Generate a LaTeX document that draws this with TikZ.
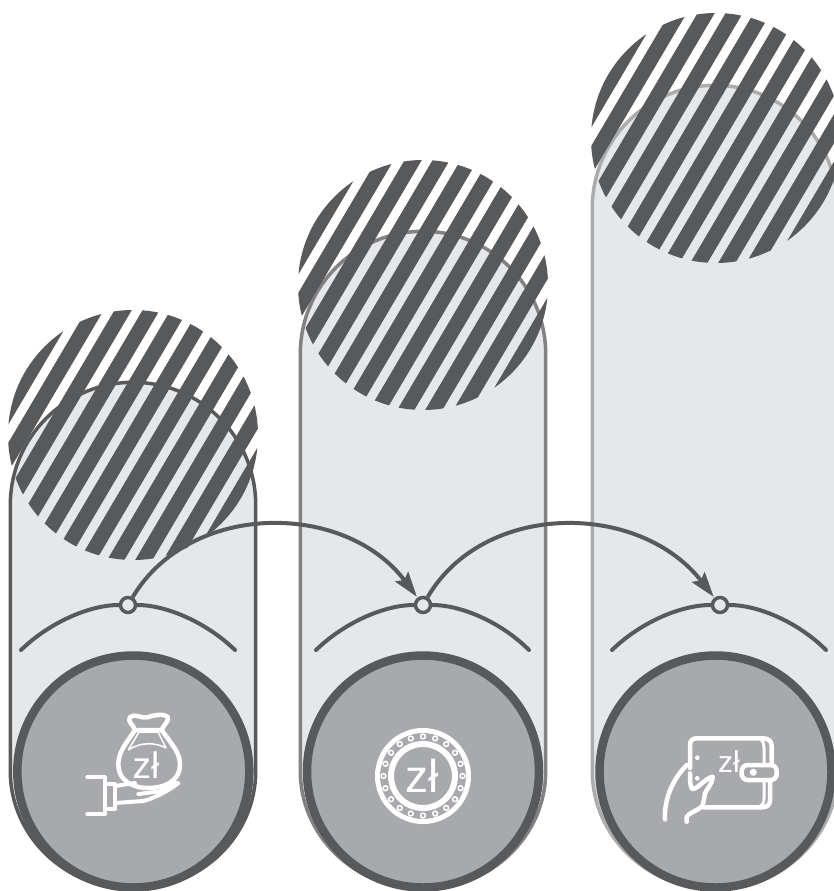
\documentclass[tikz,border=0pt]{standalone}
\usepackage{fontspec}
\setmainfont{Liberation Sans}
\usetikzlibrary{arrows.meta}
\definecolor{darkgrey}{HTML}{58595B}
\definecolor{midgrey}{HTML}{A7A9AC}
\definecolor{palegrey}{HTML}{E6E7E8}
\tikzset{
  stripe/.style={darkgrey, line width=14.8pt},
  link/.style={darkgrey, line width=4pt, -{Stealth[length=25pt,width=16pt,inset=4pt]}, shorten >=1pt},
  bow/.style={darkgrey, line width=4pt, line cap=round},
  dot/.style={circle, draw=darkgrey, fill=palegrey, line width=3.5pt, minimum size=15pt, inner sep=0pt},
  icon/.style={white, line width=4.5pt, line cap=round, line join=round},
  thinicon/.style={white, line width=1.5pt},
  zloty/.style={white, inner sep=0pt}
}
\begin{document}
\begin{tikzpicture}[x=1pt,y=-1pt]
\useasboundingbox (0,0) rectangle (834,891);
\clip (0,0) rectangle (834,891);
\fill[white] (0,0) rectangle (834,891);

% -----------------------------
% Columns
% -----------------------------
\foreach \cx/\cy/\shade in {133/505/100,423/354/75,715/208/50} {
    \draw[fill=palegrey, draw=darkgrey!\shade!white, line width=3.5pt]
        (\cx-122.7,771) -- (\cx-122.7,\cy) arc (180:360:122.7) -- (\cx+122.7,771)
        arc (0:180:122.7 and 118) -- cycle;
}

% -----------------------------
% Striped discs
% -----------------------------
\foreach \cx/\cy/\phase in {133/435/0.5,423/285/0.5,716/138/0.5} {
    \begin{scope}[shift={(\cx,\cy)}]
        \clip (0,0) circle (125);
        \foreach \k in {-7,...,7} {
            \draw[stripe] (\k*28+\phase+88.5,-150) -- (\k*28+\phase-88.5,150);
        }
    \end{scope}
}

% -----------------------------
% Base discs
% -----------------------------
\foreach \cx in {133.3,423,715.5} {
    \draw[fill=midgrey, draw=darkgrey, line width=8.5pt] (\cx,771.5) circle (116);
}

% -----------------------------
% Bows and links
% -----------------------------
\node[dot] (dotA) at (128,605) {};
\node[dot] (dotB) at (423,605) {};
\node[dot] (dotC) at (720,605) {};

\coordinate (bowAl) at (21,650);
\coordinate (bowAr) at (235,650);
\coordinate (bowBl) at (316,650);
\coordinate (bowBr) at (529,650);
\coordinate (bowCl) at (612,650);
\coordinate (bowCr) at (826,650);

\draw[bow] (bowAl) .. controls (50,622) and (90,605) .. (dotA);
\draw[bow] (dotA) .. controls (166,605) and (206,622) .. (bowAr);
\draw[bow] (bowBl) .. controls (345,622) and (385,605) .. (dotB);
\draw[bow] (dotB) .. controls (461,605) and (501,622) .. (bowBr);
\draw[bow] (bowCl) .. controls (641,622) and (681,605) .. (dotC);
\draw[bow] (dotC) .. controls (758,605) and (798,622) .. (bowCr);

\draw[link] (dotA) .. controls (190,501) and (345,501) .. (dotB);
\draw[link] (dotB) .. controls (484,501) and (639,501) .. (dotC);

% -----------------------------
% Money bag on a hand
% -----------------------------
\draw[icon] (135,730) .. controls (125,745) and (118.3,752) .. (118.3,765)
    .. controls (118.3,780) and (132,788) .. (148.3,788)
    .. controls (166,788) and (180,780) .. (180,765)
    .. controls (180,752) and (172,745) .. (161.7,730) -- cycle;
\draw[icon] (135,730) .. controls (133,724) and (127,722) .. (130,717)
    .. controls (135,713) and (141,719) .. (148.3,717)
    .. controls (155,715) and (163,713) .. (168,717)
    .. controls (169,722) and (163,725) .. (161.7,730);
\draw[thinicon] (128.3,750) -- (139,732) -- (158,732) -- (166,748);
\draw[thinicon] (128.3,750) .. controls (140,742) and (155,742) .. (166,748);
\draw[icon, line width=4pt] (87.3,777.3) -- (105,777.3) -- (105,814) -- (87.3,814);
\draw[icon, line width=4pt] (105,784) -- (115,784) -- (115,809) -- (105,809);
\draw[icon, line width=4pt] (115,786) -- (135,783);
\draw[icon, line width=4pt] (115,803) -- (143.3,801) .. controls (155,798) and (170,790) .. (178.3,783)
    .. controls (170,782) and (165,790) .. (160,791.3) -- (138.3,794);
\node[zloty, font=\fontsize{37}{37}\selectfont] (bagText) at (146,765) {zł};

% -----------------------------
% Coin
% -----------------------------
\draw[icon, line width=5pt] (423,776) circle (45.5);
\draw[icon, line width=6pt] (423,776) circle (32);
\foreach \a in {0,18,...,342} {
    \draw[thinicon] (423,776) ++(\a:39.5) circle (2.4);
}
\node[zloty, font=\fontsize{46}{46}\selectfont] (coinText) at (422,776) {zł};

% -----------------------------
% Wallet in a hand
% -----------------------------
\draw[icon] (690,768) -- (690,745) .. controls (690,740) and (693,738.3) .. (697,738.3)
    -- (763,738.3) .. controls (768,738.3) and (771.7,741) .. (771.7,746) -- (771.7,765);
\draw[icon] (770,780) -- (770,800) .. controls (770,805) and (767,807.3) .. (762,807.3) -- (703.3,807.3);
\draw[icon, line width=3pt] (761,739) .. controls (763,741) and (764,744) .. (764,748) -- (764,765);
\draw[icon, line width=3pt] (764,781) -- (764,799) .. controls (764,803) and (762,806) .. (759,807);
\draw[icon, rounded corners=6pt] (741.7,765) rectangle (776.7,780);
\fill[white] (753.3,772.3) circle (3.5);
\fill[white] (697.3,757.7) circle (2.3);
\fill[white] (697.3,778.3) circle (2.3);
\draw[icon] (665,819.3) .. controls (664,800) and (672,780) .. (686.7,765);
\draw[icon] (690,773.3) .. controls (690,780) and (690,785) .. (691.7,788.3)
    .. controls (695,792) and (705,778) .. (712.7,776.7)
    .. controls (712,785) and (706,790) .. (705,793.3)
    .. controls (704,800) and (703,805) .. (701.7,806.7)
    .. controls (697,811) and (690,812) .. (686.7,816.7) -- (686.7,821.7);
\node[zloty, font=\fontsize{30}{30}\selectfont] (walletText) at (729,762) {zł};

\end{tikzpicture}
\end{document}
